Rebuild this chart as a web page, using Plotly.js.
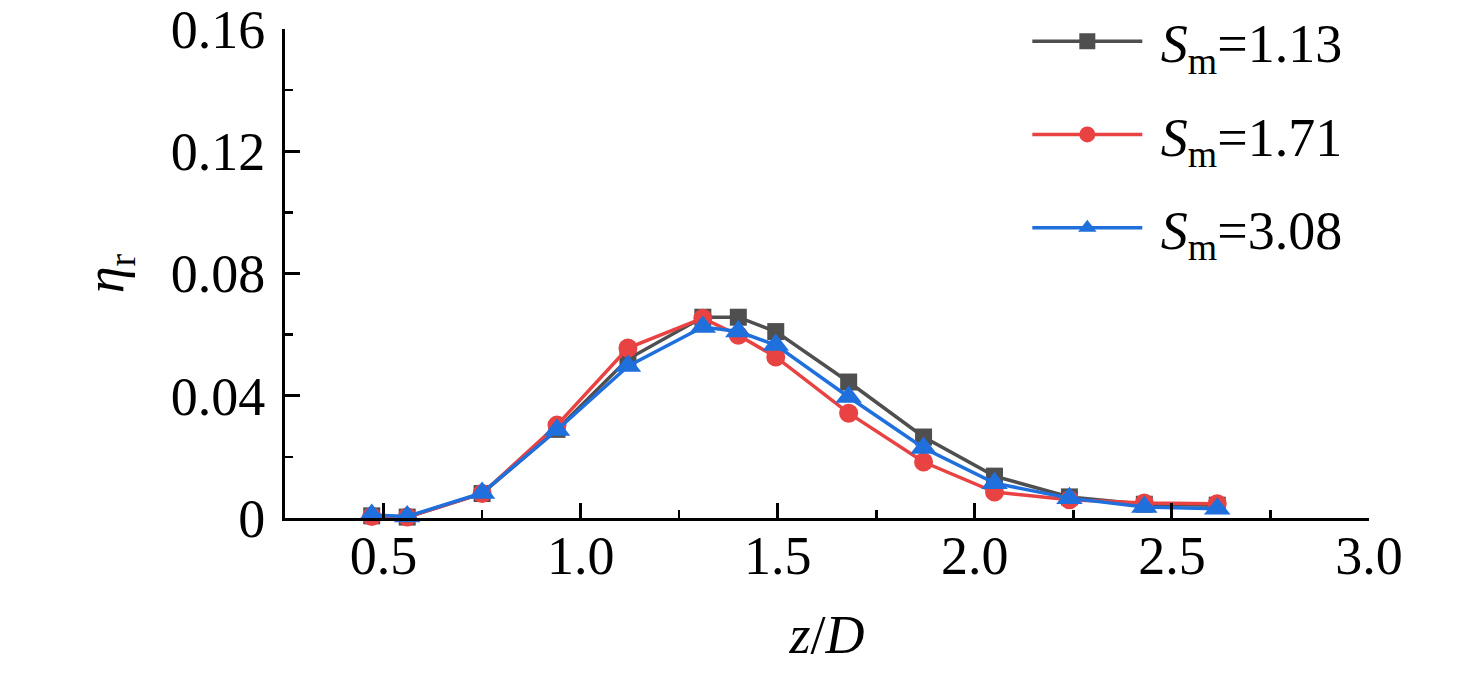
<!DOCTYPE html>
<html>
<head>
<meta charset="utf-8">
<script src="https://cdn.plot.ly/plotly-3.0.1.min.js"></script>
<style>html,body{margin:0;padding:0;background:#fff;}#chart{width:1476px;height:674px;}</style>
</head>
<body>
<div id="chart"></div>
<script>
const zD = [0.47, 0.56, 0.75, 0.94, 1.12, 1.31, 1.40, 1.495, 1.68, 1.87, 2.05, 2.24, 2.43, 2.615];
const eta_113 = [0.0007, 0.0003, 0.0080, 0.0290, 0.0520, 0.0657, 0.0657, 0.0610, 0.0445, 0.0265, 0.0137, 0.0069, 0.0045, 0.0042];
const eta_171 = [0.0005, 0.0003, 0.0080, 0.0304, 0.0556, 0.0654, 0.0598, 0.0527, 0.0343, 0.0183, 0.0085, 0.0060, 0.0049, 0.0047];
const eta_308 = [0.0010, 0.0005, 0.0082, 0.0288, 0.0497, 0.0625, 0.0610, 0.0566, 0.0396, 0.0229, 0.0114, 0.0065, 0.0036, 0.0030];
const seriesNames = ['<i>S</i><sub>m</sub>=1.13', '<i>S</i><sub>m</sub>=1.71', '<i>S</i><sub>m</sub>=3.08'];
const xTickVals = [0.5, 1.0, 1.5, 2.0, 2.5, 3.0];
const xTickText = ['0.5', '1.0', '1.5', '2.0', '2.5', '3.0'];
const yTickVals = [0, 0.04, 0.08, 0.12, 0.16];
const yTickText = ['0', '0.04', '0.08', '0.12', '0.16'];

const FONT = 'Liberation Serif, Times New Roman, serif';
const colors = ['#4f4f4f', '#e84242', '#1f6fdc'];
const symbols = ['square', 'circle', 'triangle-up'];
const sizes = [17, 19, 23];
const ys = [eta_113, eta_171, eta_308];

const data = ys.map((y, i) => ({
  x: zD, y: y, type: 'scatter', mode: 'lines+markers',
  name: '\u00a0' + seriesNames[i], legendgroup: 'g' + i,
  line: {color: colors[i], width: 3.5},
  marker: {color: colors[i], symbol: symbols[i], size: sizes[i]},
  cliponaxis: false
}));

const layout = {
  width: 1476, height: 674,
  margin: {l: 285, r: 107, t: 29, b: 156, autoexpand: false},
  paper_bgcolor: '#fff', plot_bgcolor: '#fff',
  font: {family: FONT, size: 54, color: '#000'},
  showlegend: true,
  legend: {
    x: 0.98, xanchor: 'right', y: 1.06, yanchor: 'top',
    bgcolor: 'rgba(0,0,0,0)', borderwidth: 0,
    font: {family: FONT, size: 54, color: '#000'},
    traceorder: 'grouped', tracegroupgap: 20, itemwidth: 110
  },
  xaxis: {
    range: [0.25, 3.0], showgrid: false, zeroline: false, automargin: false,
    showline: true, linecolor: '#000', linewidth: 3,
    ticks: 'inside', ticklen: 15, tickwidth: 3, tickcolor: '#000',
    tickvals: xTickVals, ticktext: xTickText, ticklabeloverflow: 'allow',
    tickfont: {family: FONT, size: 54, color: '#000'},
    ticklabelstandoff: -12,
    minor: {ticks: 'inside', ticklen: 8, tickwidth: 2.5, tickcolor: '#000', dtick: 0.25, tick0: 0.25, showgrid: false},
    title: {text: '<i>z</i>/<i>D</i>', font: {family: FONT, size: 54, color: '#000'}, standoff: 31}
  },
  yaxis: {
    range: [0, 0.16001], showgrid: false, zeroline: false, automargin: false,
    showline: true, linecolor: '#000', linewidth: 3,
    ticks: 'inside', ticklen: 15, tickwidth: 3, tickcolor: '#000',
    tickvals: yTickVals, ticktext: yTickText, ticklabeloverflow: 'allow',
    tickfont: {family: FONT, size: 54, color: '#000'},
    ticklabelstandoff: 6,
    minor: {ticks: 'inside', ticklen: 8, tickwidth: 2.5, tickcolor: '#000', dtick: 0.02, tick0: 0, showgrid: false},
    title: {text: '<i>η</i><sub>r</sub>', font: {family: FONT, size: 54, color: '#000'}, standoff: 30}
  }
};

Plotly.newPlot('chart', data, layout, {displayModeBar: false, staticPlot: true});
</script>
</body>
</html>
